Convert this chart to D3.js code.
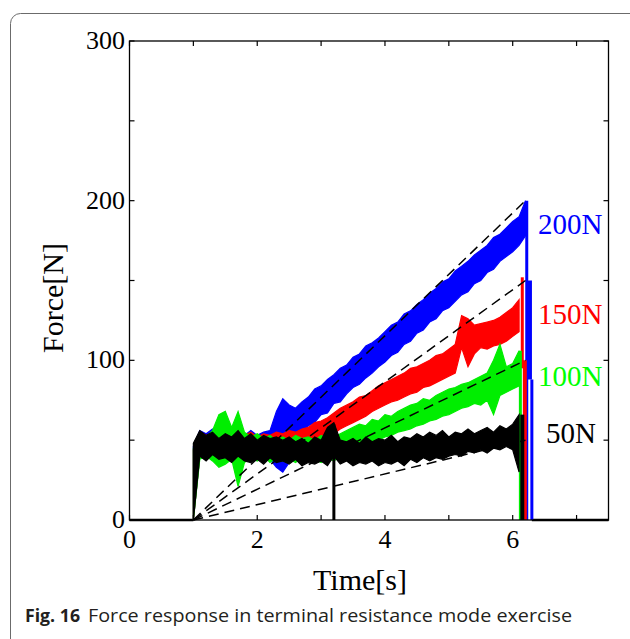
<!DOCTYPE html>
<html>
<head>
<meta charset="utf-8">
<script src="https://cdn.jsdelivr.net/npm/d3@7"></script>
<style>
  body { margin: 0; background: #fff; }
  svg  { display: block; }
</style>
</head>
<body>
<svg id="chart" width="630" height="639"></svg>
<script>

// sample times, 1.0 … 6.2 s
const timeGrid = d3.range(0, 53).map(i => +(1 + i * 0.1).toFixed(1));

// noise envelope of each trace: lower / upper edge [N]
const blackLo = [0,40,37,41,38,39,36,40,37,36, 38,35,39,36,37,35,38,34,36,35, 37,34,40,35,37,34,36,35,37,34, 36,35,37,34,38,36,39,37,39,38, 40,41,40,43,42,44,42,45,44,46, 44,30];
const blackHi = [48,56,53,55,51,54,52,56,51,54, 50,53,51,52,50,52,49,51,48,52, 50,58,61,50,49,51,48,52,49,51, 50,53,49,52,51,54,52,55,53,56, 52,55,54,57,54,56,58,55,59,57, 60,66];

const greenLo = [0,38,40,37,33,35,38,21,36,39, 37,40,36,39,37,38,36,39,37,38, 36,39,37,40,42,44,46,47,49,50, 52,53,55,56,57,59,60,62,63,65, 66,68,70,71,73,72,75,66,78,80, 82,84];
const greenHi = [45,55,52,56,66,68,58,68,55,52, 54,51,53,50,52,50,53,51,52,50, 53,51,52,54,56,58,60,59,63,62, 66,65,68,70,72,73,76,75,78,80, 82,83,85,86,88,90,92,100,110,96, 98,106];

const redLo = [0,40,39,41,38,40,39,41,38,40, 39,41,38,40,41,42,43,45,46,48, 50,52,54,57,59,61,63,65,68,70, 72,74,75,77,79,80,83,84,86,88, 90,92,108,96,104,108,107,109,110,112, 115,118];
const redHi = [44,55,53,54,52,55,52,54,53,55, 52,54,53,55,54,56,55,57,58,61, 62,64,67,70,72,74,77,78,81,84, 86,88,90,92,95,96,98,100,103,104, 107,110,128,126,122,123,124,125,127,130, 133,138];

const blueLo = [0,40,38,41,39,40,38,41,39,40, 38,40,38,33,30,36,50,54,59,61, 66,67,73,74,79,83,85,89,92,96, 99,103,105,110,112,117,119,124,126,131, 133,137,141,143,148,150,155,157,162,165, 168,172,178];
const blueHi = [46,56,54,57,53,56,54,55,53,56, 53,55,56,68,76,72,70,74,77,82, 84,88,91,95,97,102,104,109,111,114, 118,122,124,129,131,135,138,142,145,149, 151,156,159,162,166,169,172,177,179,183, 187,190,200];

// vertical jumps of each trace: [time, from, to]
const blackJumps = [[3.2, 60, 0], [6.15, 66, 0]];
const greenJumps = [[6.12, 106, 0]];
const redJumps   = [[6.15, 152, 95], [6.19, 100, 0]];
const blueJumps  = [[6.22, 200, 0], [6.27, 150, 88], [6.3, 88, 0]];
const jumpWidths = [3, 4, 3];

// force is zero before the start and after release
const zeroSpans = [[0, 1], [6.3, 7.5]];

// reference ramps: from (1 s, 0 N) to (6.2 s, target)
const rampStart  = [1, 0];
const rampEndT   = 6.2;
const targets    = [200, 150, 100, 50];
const targetText = ['200N', '150N', '100N', '50N'];

const xTicks = [0, 1, 2, 3, 4, 5, 6, 7];
const yTicks = [0, 50, 100, 150, 200, 250, 300];
const xLabels = [0, 2, 4, 6];
const yLabels = [0, 100, 200, 300];

/* ── Layout ─────────────────────────────────────────────────────── */
const M = { left: 129.5, top: 41, right: 608.5, bottom: 520 };
const SERIF = '"Liberation Serif", "Times New Roman", serif';

const x = d3.scaleLinear().domain([0, 7.5]).range([M.left, M.right]);
const y = d3.scaleLinear().domain([0, 300]).range([M.bottom, M.top]);

const svg = d3.select('#chart');

// rounded figure frame
svg.append('rect')
  .attr('x', 10.5).attr('y', 13.5)
  .attr('width', 640).attr('height', 650)
  .attr('rx', 10)
  .attr('fill', 'none')
  .attr('stroke', '#6b6b6b')
  .attr('stroke-width', 1);

const series = [
  { color: '#0000ff', text: '#0000ff', lo: blueLo,  hi: blueHi,  jumps: blueJumps,  labelY: 234, labelX: 538 },
  { color: '#ff0000', text: '#ff0000', lo: redLo,   hi: redHi,   jumps: redJumps,   labelY: 324, labelX: 538 },
  { color: '#00ee00', text: '#00ff00', lo: greenLo, hi: greenHi, jumps: greenJumps, labelY: 386, labelX: 538 },
  { color: '#000000', text: '#000000', lo: blackLo, hi: blackHi, jumps: blackJumps, labelY: 443, labelX: 546 },
];

const area = d3.area()
  .x(d => x(d.t))
  .y0(d => y(d.lo))
  .y1(d => y(d.hi));

const gData = svg.append('g');

// zero level
gData.selectAll('line.zero').data(zeroSpans).join('line')
  .attr('class', 'zero')
  .attr('x1', d => x(d[0])).attr('x2', d => x(d[1]))
  .attr('y1', y(0)).attr('y2', y(0))
  .attr('stroke', '#000').attr('stroke-width', 2.5);

series.forEach(s => {
  const pts = s.lo.map((v, i) => ({ t: timeGrid[i], lo: v, hi: s.hi[i] }));
  gData.append('path')
    .datum(pts)
    .attr('d', area)
    .attr('fill', s.color)
    .attr('stroke', s.color)
    .attr('stroke-width', 1.2)
    .attr('stroke-linejoin', 'miter');

  gData.selectAll(null).data(s.jumps).join('line')
    .attr('x1', d => x(d[0])).attr('x2', d => x(d[0]))
    .attr('y1', d => y(d[1])).attr('y2', d => y(d[2]))
    .attr('stroke', s.color)
    .attr('stroke-width', (d, i) => jumpWidths[i] || 3);
});

// dashed reference ramps
svg.append('g').selectAll('line').data(targets).join('line')
  .attr('x1', x(rampStart[0])).attr('y1', y(rampStart[1]))
  .attr('x2', x(rampEndT)).attr('y2', d => y(d))
  .attr('stroke', '#000')
  .attr('stroke-width', 1.5)
  .attr('stroke-dasharray', '10,6');

/* ── Axes: closed box, ticks inward on all sides ───────────────── */
const gAx = svg.append('g').attr('fill', 'none').attr('stroke', '#000');

gAx.append('rect')
  .attr('x', M.left).attr('y', M.top)
  .attr('width', M.right - M.left).attr('height', M.bottom - M.top)
  .attr('stroke-width', 1.3);

const tickLen = 5;
gAx.selectAll('line.xb').data(xTicks).join('line')
  .attr('class', 'xb')
  .attr('x1', d => x(d)).attr('x2', d => x(d))
  .attr('y1', M.bottom).attr('y2', M.bottom - tickLen).attr('stroke-width', 1.2);
gAx.selectAll('line.xt').data(xTicks).join('line')
  .attr('class', 'xt')
  .attr('x1', d => x(d)).attr('x2', d => x(d))
  .attr('y1', M.top).attr('y2', M.top + tickLen).attr('stroke-width', 1.2);
gAx.selectAll('line.yl').data(yTicks).join('line')
  .attr('class', 'yl')
  .attr('x1', M.left).attr('x2', M.left + tickLen)
  .attr('y1', d => y(d)).attr('y2', d => y(d)).attr('stroke-width', 1.2);
gAx.selectAll('line.yr').data(yTicks).join('line')
  .attr('class', 'yr')
  .attr('x1', M.right).attr('x2', M.right - tickLen)
  .attr('y1', d => y(d)).attr('y2', d => y(d)).attr('stroke-width', 1.2);

const gText = svg.append('g')
  .attr('font-family', SERIF)
  .attr('fill', '#000');

gText.selectAll('text.xl').data(xLabels).join('text')
  .attr('class', 'xl')
  .attr('x', d => x(d)).attr('y', 548)
  .attr('text-anchor', 'middle')
  .attr('font-size', 26)
  .text(d => d);

gText.selectAll('text.yl').data(yLabels).join('text')
  .attr('class', 'yl')
  .attr('x', 125).attr('y', d => y(d) + 8)
  .attr('text-anchor', 'end')
  .attr('font-size', 26)
  .text(d => d);

gText.append('text')
  .attr('x', 360).attr('y', 590)
  .attr('text-anchor', 'middle')
  .attr('font-size', 30)
  .text('Time[s]');

gText.append('text')
  .attr('transform', 'translate(63,298) rotate(-90)')
  .attr('text-anchor', 'middle')
  .attr('font-size', 30)
  .text('Force[N]');

// series labels at the right
gText.selectAll('text.sl').data(series).join('text')
  .attr('class', 'sl')
  .attr('x', d => d.labelX).attr('y', d => d.labelY)
  .attr('font-size', 29)
  .attr('fill', d => d.text)
  .text((d, i) => targetText[i]);

/* ── Caption ────────────────────────────────────────────────────── */
const cap = svg.append('text')
  .attr('x', 25).attr('y', 622)
  .attr('font-family', '"Open Sans", "Noto Sans", sans-serif')
  .attr('font-size', 18)
  .attr('fill', '#231f20');
cap.append('tspan').attr('font-weight', 'bold')
  .attr('textLength', 55).attr('lengthAdjust', 'spacingAndGlyphs')
  .text('Fig. 16');
cap.append('tspan').attr('dx', 8)
  .attr('textLength', 484).attr('lengthAdjust', 'spacingAndGlyphs')
  .text('Force response in terminal resistance mode exercise');
</script>
</body>
</html>
